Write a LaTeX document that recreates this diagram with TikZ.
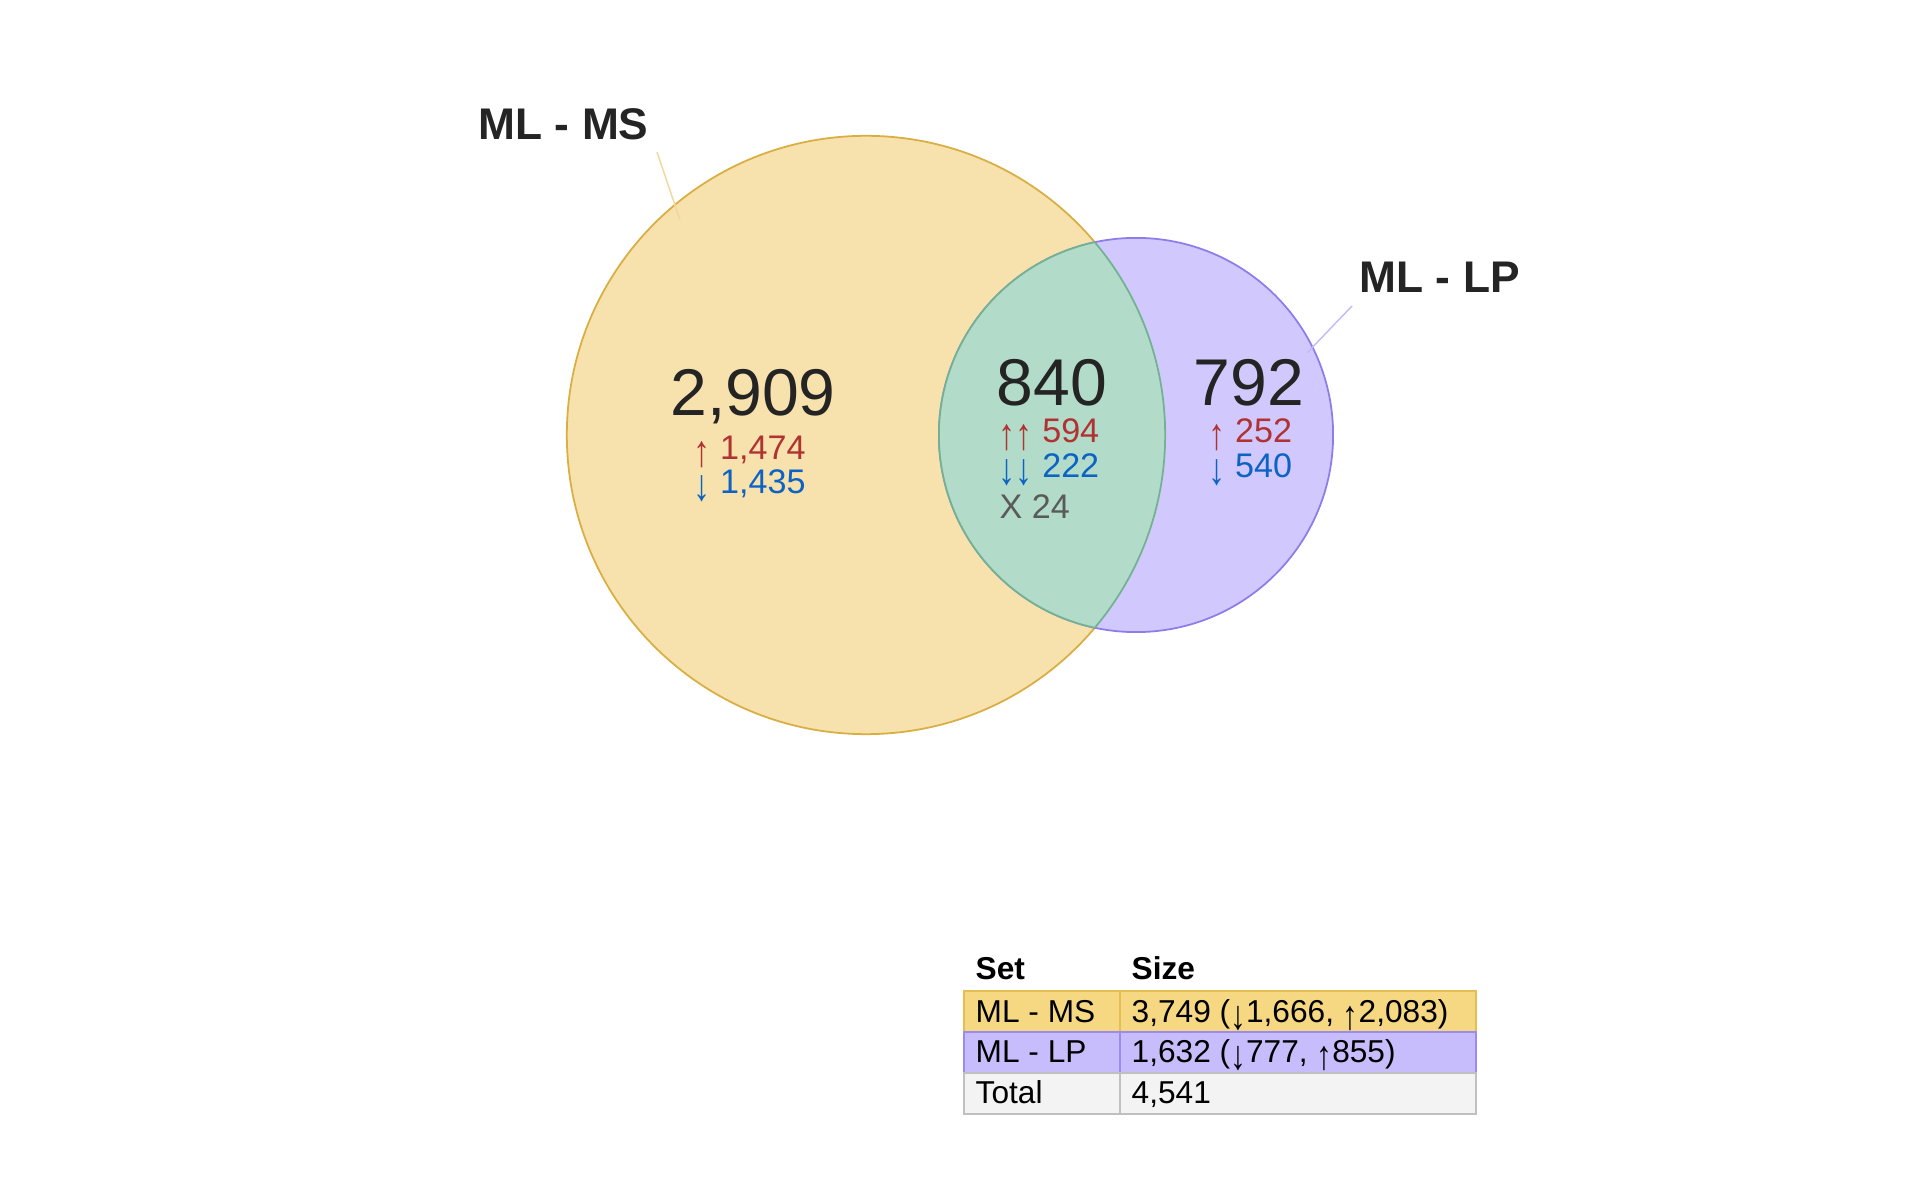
\documentclass[tikz,border=0pt]{standalone}
\usepackage{fontspec}
\setmainfont{Liberation Sans}
\usepackage{xcolor}

\definecolor{msfill}{HTML}{F7E1AD}
\definecolor{msline}{HTML}{D9AE42}
\definecolor{lpfill}{HTML}{D1C9FD}
\definecolor{lpline}{HTML}{8D7DEA}
\definecolor{bothfill}{HTML}{B2DCC9}
\definecolor{bothline}{HTML}{74B193}
\definecolor{upred}{HTML}{B03232}
\definecolor{downblue}{HTML}{0D63C4}
\definecolor{mixgray}{HTML}{5A5A5A}
\definecolor{inkblack}{HTML}{242424}
\definecolor{msrow}{HTML}{F5D881}
\definecolor{msrowline}{HTML}{E3BE55}
\definecolor{lprow}{HTML}{C7BDFC}
\definecolor{lprowline}{HTML}{9A8AF1}
\definecolor{totalrow}{HTML}{F3F3F3}
\definecolor{totalrowline}{HTML}{C0C0C0}

% taller arrows, as in the reference
\newcommand{\uparr}{\smash{\raisebox{-0.2em}{\scalebox{1}[1.3]{↑}}}}
\newcommand{\downarr}{\smash{\raisebox{-0.2em}{\scalebox{1}[1.3]{↓}}}}

\tikzset{
  setlabel/.style={anchor=base west,inner sep=0pt,text=inkblack,
    font=\fontsize{12.6pt}{15pt}\selectfont\bfseries},
  bignum/.style={anchor=base,inner sep=0pt,text=inkblack,
    font=\fontsize{18.8pt}{22pt}\selectfont},
  upnum/.style={anchor=base west,inner sep=0pt,text=upred,
    font=\fontsize{9.7pt}{11pt}\selectfont},
  downnum/.style={upnum,text=downblue},
  mixnum/.style={upnum,text=mixgray},
  tablehead/.style={anchor=base west,inner sep=0pt,text=black,
    font=\fontsize{9pt}{11pt}\selectfont\bfseries},
  tablecell/.style={anchor=base west,inner sep=0pt,text=black,
    font=\fontsize{9pt}{11pt}\selectfont},
}

\begin{document}
\begin{tikzpicture}[x=0.01cm,y=-0.01cm]
    % Frame
    \useasboundingbox[fill=white] (0,0) rectangle (1920,1186);

    % Sets
    \filldraw[fill=msfill,draw=msline,line width=0.5pt] (866,435) circle (2.99cm);
    \filldraw[fill=lpfill,draw=lpline,line width=0.5pt] (1136,435) circle (1.97cm);

    % Overlap
    \begin{scope}
        \clip (866,435) circle (2.99cm);
        \filldraw[fill=bothfill,draw=bothline,line width=0.5pt] (1136,435) circle (1.97cm);
    \end{scope}
    \begin{scope}
        \clip (1136,435) circle (1.97cm);
        \draw[bothline,line width=0.5pt] (866,435) circle (2.99cm);
    \end{scope}

    % Set labels
    \node[setlabel] (mslabel) at (478,140) {ML - MS};
    \node[setlabel] (lplabel) at (1359,293) {ML - LP};
    \coordinate (mstip) at (657,152);
    \coordinate (msend) at (680,220);
    \coordinate (lptip) at (1352,306);
    \coordinate (lpend) at (1307,353);
    \draw[msfill!80!msline,line width=0.4pt] (mstip) -- (msend);
    \draw[lpfill!80!lpline,line width=0.4pt] (lptip) -- (lpend);

    % ML - MS only
    \node[bignum] (msonly) at (753,416) {2,909};
    \node[upnum] (msup) at (693,460) {\uparr{} 1,474};
    \node[downnum] (msdown) at (693,494) {\downarr{} 1,435};

    % Both
    \node[bignum] (both) at (1052,406) {840};
    \node[upnum] (bothup) at (998,443) {\uparr\uparr{} 594};
    \node[downnum] (bothdown) at (998,478) {\downarr\downarr{} 222};
    \node[mixnum] (bothmix) at (999,519) {X 24};

    % ML - LP only
    \node[bignum] (lponly) at (1249,406) {792};
    \node[upnum] (lpup) at (1208,443) {\uparr{} 252};
    \node[downnum] (lpdown) at (1208,478) {\downarr{} 540};

    % Table
    \node[tablehead] (sethead) at (975,980) {Set};
    \node[tablehead] (sizehead) at (1131,980) {Size};

    \filldraw[fill=msrow,draw=msrowline,line width=0.5pt] (964,991) rectangle (1120,1032);
    \filldraw[fill=msrow,draw=msrowline,line width=0.5pt] (1120,991) rectangle (1476,1032);
    \filldraw[fill=lprow,draw=lprowline,line width=0.5pt] (964,1032) rectangle (1120,1073);
    \filldraw[fill=lprow,draw=lprowline,line width=0.5pt] (1120,1032) rectangle (1476,1073);
    \filldraw[fill=totalrow,draw=totalrowline,line width=0.5pt] (964,1073) rectangle (1120,1114);
    \filldraw[fill=totalrow,draw=totalrowline,line width=0.5pt] (1120,1073) rectangle (1476,1114);

    \node[tablecell] (msname) at (975,1023) {ML - MS};
    \node[tablecell] (mssize) at (1131,1023) {3,749 (\downarr1,666, \uparr2,083)};
    \node[tablecell] (lpname) at (975,1063) {ML - LP};
    \node[tablecell] (lpsize) at (1131,1063) {1,632 (\downarr777, \uparr855)};
    \node[tablecell] (totalname) at (975,1104) {Total};
    \node[tablecell] (totalsize) at (1131,1104) {4,541};
\end{tikzpicture}
\end{document}
